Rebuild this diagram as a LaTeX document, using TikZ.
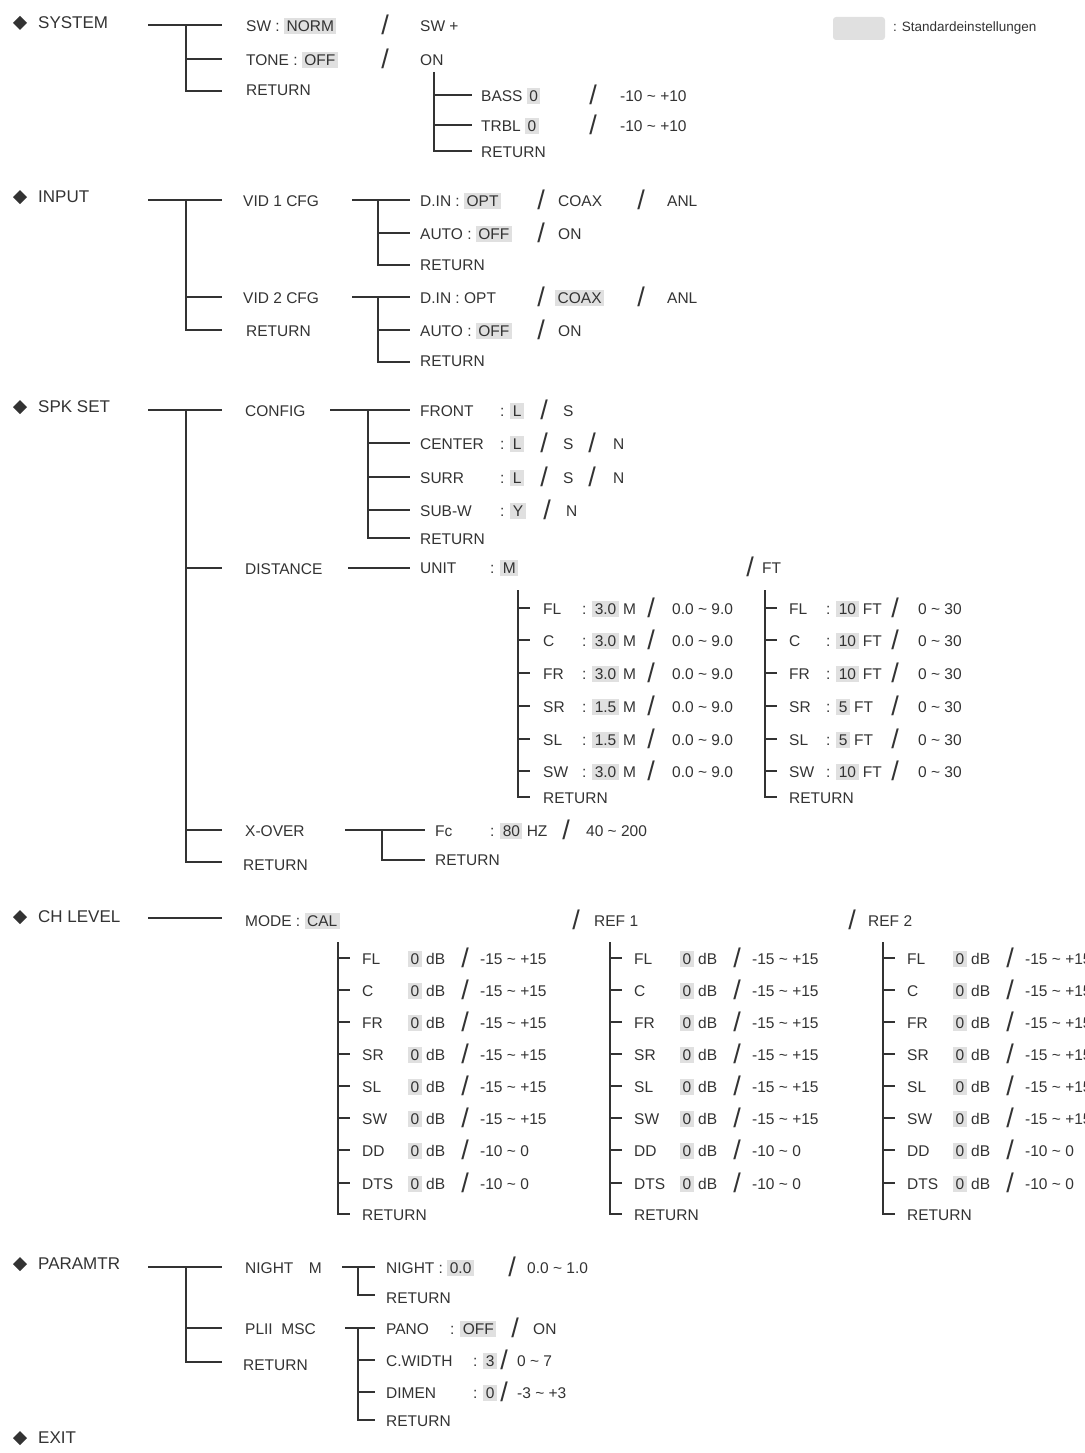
\documentclass[tikz,border=0pt]{standalone}
\usepackage{fontspec}
\setmainfont{Liberation Sans}
\definecolor{hlgray}{gray}{0.88}
\definecolor{ink}{gray}{0.2}
\newcommand\hlb[1]{{\setlength{\fboxsep}{2.5pt}\colorbox{hlgray}{#1}}}
\begin{document}
\begin{tikzpicture}[x=1pt,y=-1pt,
  t/.style={anchor=west,inner sep=0pt,font=\fontsize{15.5}{16}\selectfont,text=ink},
  sl/.style={anchor=center,inner sep=0pt,font=\fontsize{27}{27}\selectfont,text=ink},
  hd/.style={anchor=west,inner sep=0pt,font=\fontsize{17}{18}\selectfont,text=ink},
  ln/.style={draw=ink,line width=1.2pt},
  lk/.style={draw=ink,line width=1.9pt}]
\useasboundingbox (0,0) rectangle (1084,1453);
\newcommand\dia[2]{\fill[ink] (20,#1-7) -- (27,#1) -- (20,#1+7) -- (13,#1) -- cycle; \node[hd] at (38,#1) {#2};}
\newcommand\tx[3]{\node[t] at (#1,#2) {#3};}
\newcommand\sls[2]{\node[sl] at (#1,#2) {/};}
% legend
\fill[hlgray,rounded corners=3pt] (833,17) rectangle (885,40);
\node[t,font=\fontsize{13.5}{14}\selectfont] at (893,28) {: Standardeinstellungen};
% SYSTEM
\dia{23}{SYSTEM}
\draw[lk] (148,25) -- (222,25);
\draw[lk] (186,25) -- (186,91) -- (222,91);
\draw[ln] (186,59) -- (222,59);
\tx{246}{26}{SW : \hlb{NORM}} \sls{385}{25} \tx{420}{26}{SW +}
\tx{246}{60}{TONE : \hlb{OFF}} \sls{385}{59} \tx{420}{60}{ON}
\tx{246}{90}{RETURN}
\draw[ln] (434,72) -- (434,151) -- (472,151);
\draw[ln] (434,95) -- (472,95); \draw[ln] (434,125) -- (472,125);
\tx{481}{96}{BASS \hlb{0}} \sls{593}{95} \tx{620}{96}{-10 \char"007E{} +10}
\tx{481}{126}{TRBL \hlb{0}} \sls{593}{125} \tx{620}{126}{-10 \char"007E{} +10}
\tx{481}{152}{RETURN}
% INPUT
\dia{197}{INPUT}
\draw[ln] (148,200) -- (222,200);
\draw[ln] (186,200) -- (186,330) -- (222,330);
\draw[ln] (186,297) -- (222,297);
\tx{243}{201}{VID 1 CFG}
\draw[ln] (352,200) -- (410,200); \draw[ln] (378,200) -- (378,265) -- (410,265); \draw[ln] (378,233) -- (410,233);
\tx{420}{201}{D.IN : \hlb{OPT}} \sls{541}{200} \tx{558}{201}{COAX} \sls{641}{200} \tx{667}{201}{ANL}
\tx{420}{234}{AUTO : \hlb{OFF}} \sls{541}{233} \tx{558}{234}{ON}
\tx{420}{265}{RETURN}
\tx{243}{298}{VID 2 CFG}
\draw[ln] (352,297) -- (410,297); \draw[ln] (378,297) -- (378,362) -- (410,362); \draw[ln] (378,330) -- (410,330);
\tx{420}{298}{D.IN : OPT} \sls{541}{297} \tx{555}{298}{\hlb{COAX}} \sls{641}{297} \tx{667}{298}{ANL}
\tx{420}{331}{AUTO : \hlb{OFF}} \sls{541}{330} \tx{558}{331}{ON}
\tx{420}{361}{RETURN}
\tx{246}{331}{RETURN}
% SPK SET
\dia{407}{SPK SET}
\draw[ln] (148,410) -- (222,410);
\draw[ln] (186,410) -- (186,862) -- (222,862);
\draw[ln] (186,568) -- (222,568); \draw[ln] (186,830) -- (222,830);
\tx{245}{411}{CONFIG}
\draw[ln] (330,410) -- (410,410); \draw[ln] (368,410) -- (368,538) -- (410,538);
\draw[lk] (368,443) -- (410,443); \draw[ln] (368,477) -- (410,477); \draw[ln] (368,510) -- (410,510);
\tx{420}{411}{FRONT} \tx{500}{411}{: \hlb{L}} \sls{544}{410} \tx{563}{411}{S}
\tx{420}{444}{CENTER} \tx{500}{444}{: \hlb{L}} \sls{544}{443} \tx{563}{444}{S} \sls{592}{443} \tx{613}{444}{N}
\tx{420}{478}{SURR} \tx{500}{478}{: \hlb{L}} \sls{544}{477} \tx{563}{478}{S} \sls{592}{477} \tx{613}{478}{N}
\tx{420}{511}{SUB-W} \tx{500}{511}{: \hlb{Y}} \sls{547}{510} \tx{566}{511}{N}
\tx{420}{539}{RETURN}
\tx{245}{569}{DISTANCE}
\draw[lk] (348,568) -- (410,568);
\tx{420}{568}{UNIT} \tx{490}{568}{: \hlb{M}} \sls{750}{567} \tx{762}{568}{FT}
\draw[ln] (518,590) -- (518,797) -- (530,797);
\draw[ln] (765,590) -- (765,797) -- (777,797);
\foreach \y/\n/\m/\f in {608/FL/3.0/10,640/C/3.0/10,673/FR/3.0/10,706/SR/1.5/5,739/SL/1.5/5,771/SW/3.0/10}{
  \draw[ln] (518,\y) -- (530,\y); \draw[ln] (765,\y) -- (777,\y);
  \tx{543}{\y+1}{\n} \tx{582}{\y+1}{: \hlb{\m} M} \sls{651}{\y} \tx{672}{\y+1}{0.0 \char"007E{} 9.0}
  \tx{789}{\y+1}{\n} \tx{826}{\y+1}{: \hlb{\f} FT} \sls{895}{\y} \tx{918}{\y+1}{0 \char"007E{} 30}
}
\tx{543}{798}{RETURN} \tx{789}{798}{RETURN}
\tx{245}{831}{X-OVER}
\draw[ln] (345,830) -- (425,830); \draw[ln] (382,830) -- (382,860) -- (425,860);
\tx{435}{831}{Fc} \tx{490}{831}{: \hlb{80} HZ} \sls{566}{830} \tx{586}{831}{40 \char"007E{} 200}
\tx{435}{860}{RETURN}
\tx{243}{865}{RETURN}
% CH LEVEL
\dia{917}{CH LEVEL}
\draw[ln] (148,918) -- (222,918);
\tx{245}{921}{MODE : \hlb{CAL}} \sls{576}{920} \tx{594}{921}{REF 1} \sls{852}{920} \tx{868}{921}{REF 2}
\foreach \dx in {0,272,545}{
  \begin{scope}[xshift=\dx]
  \draw[ln] (338,942) -- (338,1214) -- (350,1214);
  \foreach \y/\n/\r in {958/FL/-15 \char"007E{} +15,990/C/-15 \char"007E{} +15,1022/FR/-15 \char"007E{} +15,1054/SR/-15 \char"007E{} +15,1086/SL/-15 \char"007E{} +15,1118/SW/-15 \char"007E{} +15,1150/DD/-10 \char"007E{} 0,1183/DTS/-10 \char"007E{} 0}{
    \draw[ln] (338,\y) -- (350,\y);
    \tx{362}{\y+1}{\n} \tx{408}{\y+1}{\hlb{0} dB} \sls{465}{\y} \tx{480}{\y+1}{\r}
  }
  \tx{362}{1215}{RETURN}
  \end{scope}
}
% PARAMTR
\dia{1264}{PARAMTR}
\draw[ln] (148,1267) -- (222,1267);
\draw[ln] (186,1267) -- (186,1362) -- (222,1362); \draw[ln] (186,1328) -- (222,1328);
\tx{245}{1268}{NIGHT\quad M}
\draw[ln] (342,1267) -- (375,1267); \draw[ln] (358,1267) -- (358,1295) -- (375,1295);
\tx{386}{1268}{NIGHT : \hlb{0.0}} \sls{512}{1267} \tx{527}{1268}{0.0 \char"007E{} 1.0}
\tx{386}{1298}{RETURN}
\tx{245}{1329}{PLII\ \ MSC}
\draw[ln] (345,1328) -- (375,1328); \draw[ln] (358,1328) -- (358,1420) -- (375,1420);
\draw[ln] (358,1360) -- (375,1360); \draw[ln] (358,1392) -- (375,1392);
\tx{386}{1329}{PANO} \tx{450}{1329}{: \hlb{OFF}} \sls{515}{1328} \tx{533}{1329}{ON}
\tx{386}{1361}{C.WIDTH} \tx{473}{1361}{: \hlb{3}} \sls{504}{1360} \tx{517}{1361}{0 \char"007E{} 7}
\tx{386}{1393}{DIMEN} \tx{473}{1393}{: \hlb{0}} \sls{504}{1392} \tx{517}{1393}{-3 \char"007E{} +3}
\tx{386}{1421}{RETURN}
\tx{243}{1365}{RETURN}
\dia{1438}{EXIT}
\end{tikzpicture}
\end{document}
